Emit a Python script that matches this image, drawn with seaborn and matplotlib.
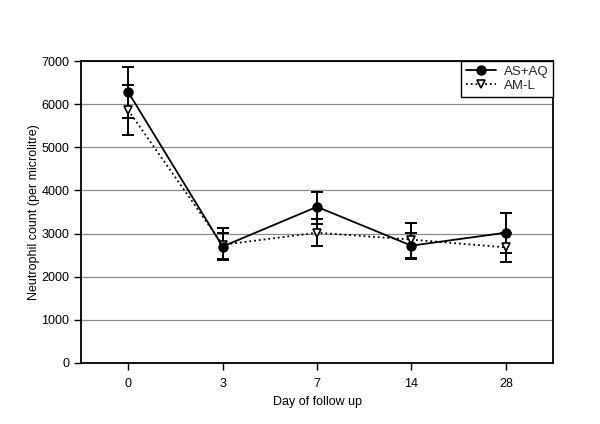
import matplotlib
matplotlib.use("Agg")
import matplotlib.pyplot as plt
import seaborn as sns
import pandas as pd
import numpy as np

days = ["0", "3", "7", "14", "28"]
asaq_mean = [6280, 2700, 3620, 2720, 3020]
asaq_low = [5680, 2405, 3215, 2410, 2555]
asaq_high = [6860, 3007, 3971, 3020, 3484]
aml_mean = [5860, 2740, 3020, 2860, 2680]
aml_low = [5285, 2390, 2712, 2430, 2348]
aml_high = [6444, 3136, 3331, 3255, 3010]
yticks = [0, 1000, 2000, 3000, 4000, 5000, 6000, 7000]

sns.set_theme(style="white")
plt.rcParams["font.family"] = ["Liberation Sans", "DejaVu Sans"]

pos = list(range(len(days)))
df = pd.concat([
    pd.DataFrame({"pos": pos, "day": days, "value": asaq_mean, "lo": asaq_low, "hi": asaq_high, "group": "AS+AQ"}),
    pd.DataFrame({"pos": pos, "day": days, "value": aml_mean, "lo": aml_low, "hi": aml_high, "group": "AM-L"}),
])

fig = plt.figure(figsize=(6.0, 4.24), dpi=100)
ax = fig.add_axes([0.135, 0.1439, 0.7867, 0.7122])

styles = {
    "AS+AQ": dict(marker="o", linestyle="-", mfc="black"),
    "AM-L": dict(marker="v", linestyle=":", mfc="white"),
}
order = ["AM-L", "AS+AQ"]
for g in order:
    sub = df[df["group"] == g]
    st = styles[g]
    ax.errorbar(sub["pos"], sub["value"],
                yerr=[sub["value"] - sub["lo"], sub["hi"] - sub["value"]],
                fmt="none", ecolor="black", elinewidth=1.4, capsize=4.5, capthick=1.4, zorder=3)
    sns.lineplot(data=sub, x="pos", y="value", ax=ax, color="black",
                 linestyle=st["linestyle"], linewidth=1.3, marker=st["marker"],
                 markersize=6.3, markerfacecolor=st["mfc"], markeredgecolor="black",
                 markeredgewidth=1.2, label=g, zorder=4)

ax.set_xlim(-0.5, len(days) - 0.5)
ax.set_ylim(0, 7000)
ax.set_xticks(pos)
ax.set_xticklabels(days)
ax.set_yticks(yticks)
ax.yaxis.grid(True, color="#8c8c8c", linewidth=0.9)
ax.set_axisbelow(True)
for s in ax.spines.values():
    s.set_color("black")
    s.set_linewidth(1.3)
ax.tick_params(axis="both", direction="out", length=5, width=1, color="black",
               labelsize=9, labelcolor="black", bottom=True, left=True)
ax.tick_params(axis="x", pad=6)
ax.set_xlabel("Day of follow up", fontsize=9, color="black", labelpad=4)
ax.set_ylabel("Neutrophil count (per microlitre)", fontsize=9, color="black", labelpad=1)

h, l = ax.get_legend_handles_labels()
hd = dict(zip(l, h))
leg = ax.legend([hd["AS+AQ"], hd["AM-L"]], ["AS+AQ", "AM-L"], loc="upper right",
                fontsize=9.5, frameon=True, fancybox=False, edgecolor="black",
                framealpha=1, borderaxespad=0.0, handlelength=2.3, borderpad=0.35,
                labelspacing=0.15, handletextpad=0.6)
leg.get_frame().set_linewidth(1.0)

fig.savefig("out.png", dpi=100)
